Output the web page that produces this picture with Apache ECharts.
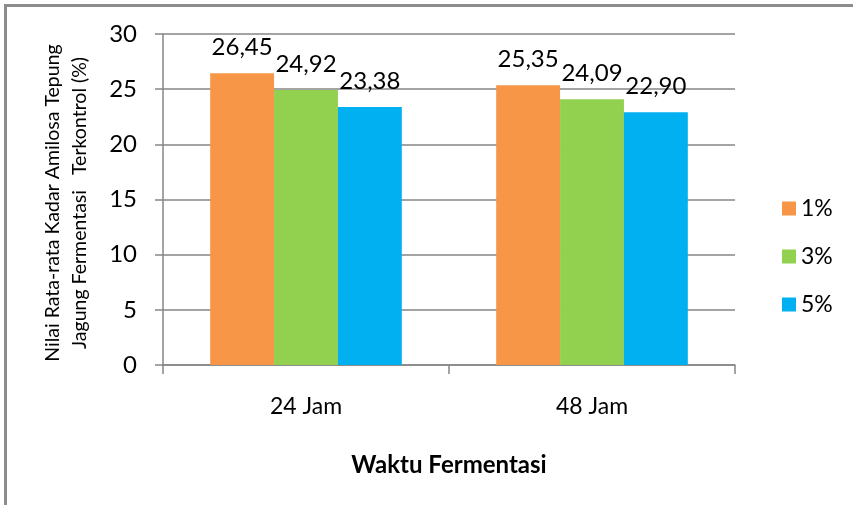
<!DOCTYPE html>
<html>
<head>
<meta charset="utf-8">
<script src="https://cdn.jsdelivr.net/npm/echarts@6/dist/echarts.min.js"></script>
<style>
html,body{margin:0;padding:0;background:#fff;}
#c{width:853px;height:505px;}
</style>
</head>
<body>
<div id="c"></div>
<script>
var categories = ['24 Jam', '48 Jam'];
var seriesNames = ['1%', '3%', '5%'];
var values1 = [26.45, 25.35];
var values3 = [24.92, 24.09];
var values5 = [23.38, 22.90];
var yTicks = [0, 5, 10, 15, 20, 25, 30];
var xTitle = 'Waktu Fermentasi';
var yTitle = 'Nilai Rata-rata Kadar Amilosa Tepung\nJagung Fermentasi   Terkontrol (%)';

var FONT = 'Lato';
var colors = ['#F79646', '#92D050', '#00B0F0'];
var allValues = [values1, values3, values5];

var chart = echarts.init(document.getElementById('c'), null, {renderer: 'canvas'});
var fmt = function (p) { return p.value.toFixed(2).replace('.', ','); };

chart.setOption({
  animation: false,
  backgroundColor: '#fff',
  textStyle: {fontFamily: FONT, color: '#000'},
  graphic: [{
    type: 'rect',
    shape: {x: 5.5, y: 5.5, width: 900, height: 600},
    style: {fill: 'none', stroke: '#8c8c8c', lineWidth: 3},
    z: 100
  }, {
    type: 'text',
    x: 66,
    y: 203,
    rotation: Math.PI / 2,
    style: {
      text: yTitle,
      fontFamily: FONT,
      fontSize: 19.5,
      lineHeight: 27,
      fill: '#000',
      align: 'center',
      verticalAlign: 'middle'
    }
  }],
  grid: {left: 163, right: 118, top: 34, bottom: 140, containLabel: false},
  legend: {
    orient: 'vertical',
    left: 777,
    top: 192,
    itemWidth: 14,
    itemHeight: 14,
    itemGap: 25,
    icon: 'rect',
    data: seriesNames,
    textStyle: {fontFamily: FONT, fontSize: 23, color: '#000'}
  },
  xAxis: {
    type: 'category',
    data: categories,
    name: xTitle,
    nameLocation: 'middle',
    nameGap: 88,
    nameTextStyle: {fontFamily: FONT, fontSize: 24, fontWeight: 'bold', color: '#000'},
    axisLine: {show: true, lineStyle: {color: '#868686', width: 1.5}},
    axisTick: {show: true, length: 9, alignWithLabel: false, lineStyle: {color: '#868686', width: 1.5}},
    axisLabel: {fontFamily: FONT, fontSize: 23, color: '#000', margin: 30}
  },
  yAxis: {
    type: 'value',
    min: 0,
    max: 30,
    interval: 5,
    axisLine: {show: true, lineStyle: {color: '#868686', width: 1.5}},
    axisTick: {show: true, length: 8, inside: false, lineStyle: {color: '#868686', width: 1.5}},
    axisLabel: {fontFamily: FONT, fontSize: 24, color: '#000', margin: 26,
      formatter: function (v) { return yTicks.indexOf(v) >= 0 ? String(v) : ''; }},
    splitLine: {show: true, lineStyle: {color: '#868686', width: 1.5}}
  },
  series: seriesNames.map(function (n, i) {
    return {
      name: n,
      type: 'bar',
      data: allValues[i],
      barGap: '0%',
      barCategoryGap: '33%',
      itemStyle: {color: colors[i]},
      label: {show: true, position: 'top', distance: 14, formatter: fmt,
        fontFamily: FONT, fontSize: 24, color: '#000'}
    };
  })
});
</script>
</body>
</html>
